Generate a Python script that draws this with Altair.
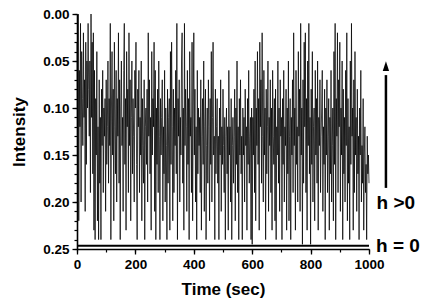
import altair as alt
import pandas as pd

# Intensity trace, one value every 2 s
intensity = [
    0.03, 0.18, 0.00, 0.22, 0.06, 0.12, 0.01, 0.20, 0.04, 0.09,
    0.14, 0.02, 0.11, 0.07, 0.21, 0.03, 0.16, 0.05, 0.10, 0.01,
    0.08, 0.13, 0.05, 0.19, 0.00, 0.11, 0.03, 0.17, 0.02, 0.23,
    0.06, 0.24, 0.09, 0.15, 0.04, 0.22, 0.12, 0.24, 0.07, 0.18,
    0.11, 0.24, 0.08, 0.14, 0.06, 0.19, 0.10, 0.13, 0.09, 0.21,
    0.07, 0.16, 0.12, 0.05, 0.18, 0.09, 0.14, 0.01, 0.24, 0.10,
    0.04, 0.15, 0.08, 0.22, 0.03, 0.12, 0.17, 0.06, 0.20, 0.09,
    0.13, 0.02, 0.18, 0.07, 0.24, 0.10, 0.05, 0.14, 0.11, 0.21,
    0.06, 0.01, 0.16, 0.09, 0.23, 0.04, 0.12, 0.08, 0.19, 0.02,
    0.14, 0.07, 0.22, 0.11, 0.05, 0.17, 0.09, 0.13, 0.20, 0.06,
    0.10, 0.03, 0.16, 0.24, 0.08, 0.12, 0.06, 0.19, 0.11, 0.15,
    0.05, 0.22, 0.09, 0.14, 0.18, 0.07, 0.24, 0.12, 0.10, 0.16,
    0.08, 0.20, 0.02, 0.13, 0.07, 0.17, 0.11, 0.23, 0.04, 0.15,
    0.09, 0.12, 0.03, 0.21, 0.06, 0.24, 0.10, 0.16, 0.08, 0.19,
    0.05, 0.13, 0.24, 0.09, 0.15, 0.11, 0.07, 0.22, 0.12, 0.17,
    0.06, 0.20, 0.10, 0.14, 0.24, 0.08, 0.18, 0.11, 0.09, 0.23,
    0.04, 0.16, 0.03, 0.12, 0.22, 0.08, 0.19, 0.10, 0.14, 0.06,
    0.17, 0.01, 0.24, 0.09, 0.13, 0.07, 0.20, 0.11, 0.15, 0.05,
    0.02, 0.18, 0.10, 0.23, 0.01, 0.14, 0.08, 0.12, 0.21, 0.06,
    0.16, 0.09, 0.24, 0.04, 0.13, 0.11, 0.19, 0.03, 0.22, 0.10,
    0.02, 0.15, 0.08, 0.20, 0.12, 0.24, 0.06, 0.17, 0.10, 0.14,
    0.11, 0.19, 0.07, 0.23, 0.13, 0.09, 0.16, 0.05, 0.21, 0.12,
    0.08, 0.24, 0.14, 0.10, 0.18, 0.07, 0.12, 0.22, 0.09, 0.16,
    0.04, 0.20, 0.11, 0.03, 0.15, 0.13, 0.24, 0.08, 0.17, 0.12,
    0.09, 0.18, 0.13, 0.24, 0.10, 0.15, 0.07, 0.21, 0.12, 0.16,
    0.08, 0.14, 0.19, 0.11, 0.24, 0.13, 0.10, 0.17, 0.12, 0.23,
    0.06, 0.15, 0.12, 0.20, 0.09, 0.24, 0.14, 0.11, 0.18, 0.13,
    0.08, 0.22, 0.10, 0.16, 0.05, 0.19, 0.12, 0.24, 0.09, 0.15,
    0.07, 0.17, 0.13, 0.24, 0.10, 0.15, 0.11, 0.20, 0.08, 0.14,
    0.12, 0.23, 0.09, 0.16, 0.06, 0.18, 0.13, 0.11, 0.24, 0.10,
    0.245, 0.11, 0.15, 0.08, 0.19, 0.05, 0.22, 0.10, 0.14, 0.04,
    0.16, 0.09, 0.23, 0.03, 0.12, 0.07, 0.18, 0.02, 0.13, 0.20,
    0.06, 0.15, 0.10, 0.24, 0.08, 0.17, 0.12, 0.05, 0.21, 0.11,
    0.14, 0.07, 0.19, 0.10, 0.23, 0.06, 0.13, 0.16, 0.09, 0.22,
    0.08, 0.24, 0.12, 0.15, 0.05, 0.18, 0.10, 0.21, 0.07, 0.13,
    0.11, 0.24, 0.09, 0.16, 0.06, 0.20, 0.12, 0.14, 0.08, 0.23,
    0.10, 0.17, 0.05, 0.22, 0.13, 0.09, 0.24, 0.11, 0.15, 0.07,
    0.19, 0.02, 0.14, 0.10, 0.23, 0.06, 0.16, 0.12, 0.20, 0.04,
    0.13, 0.08, 0.21, 0.01, 0.15, 0.10, 0.245, 0.07, 0.18, 0.03,
    0.12, 0.02, 0.19, 0.09, 0.23, 0.05, 0.14, 0.01, 0.17, 0.11,
    0.245, 0.08, 0.16, 0.04, 0.20, 0.12, 0.10, 0.22, 0.06, 0.15,
    0.09, 0.18, 0.05, 0.23, 0.11, 0.14, 0.07, 0.19, 0.13, 0.10,
    0.06, 0.21, 0.12, 0.16, 0.08, 0.24, 0.10, 0.15, 0.07, 0.19,
    0.13, 0.09, 0.23, 0.11, 0.17, 0.06, 0.20, 0.14, 0.10, 0.22,
    0.04, 0.16, 0.01, 0.24, 0.09, 0.13, 0.02, 0.19, 0.07, 0.12,
    0.03, 0.21, 0.10, 0.15, 0.05, 0.24, 0.08, 0.17, 0.11, 0.20,
    0.06, 0.14, 0.02, 0.22, 0.09, 0.18, 0.12, 0.24, 0.05, 0.16,
    0.01, 0.13, 0.10, 0.23, 0.07, 0.19, 0.04, 0.15, 0.11, 0.21,
    0.08, 0.17, 0.13, 0.24, 0.10, 0.15, 0.06, 0.20, 0.14, 0.18,
    0.09, 0.23, 0.15, 0.12, 0.19, 0.16, 0.24, 0.13, 0.17, 0.15,
    0.18,
]
time = [2 * i for i in range(len(intensity))]

x_major = [0, 200, 400, 600, 800, 1000]
x_minor = [0, 100, 200, 300, 400, 500, 600, 700, 800, 900, 1000]
y_major = [0.00, 0.05, 0.10, 0.15, 0.20, 0.25]
y_minor = [round(0.01 * i, 2) for i in range(26)]

# baseline (h = 0) level and annotations
baseline_level = [0.2465]
baseline_span = [0, 1000]
arrow_x = [1058]
arrow_y = [0.185, 0.065]
arrow_head_y = [0.056]
labels = ["h >0", "h = 0"]
label_x = [1026, 1024]
label_y = [0.201, 0.2465]

FONT = "Liberation Sans"

df = pd.DataFrame({"t": time, "I": intensity})
x_scale = alt.Scale(domain=[0, 1000], nice=False, zero=False)
y_scale = alt.Scale(domain=[0, 0.25], reverse=True, nice=False, zero=False)

axis_common = dict(
    domainColor="black", domainWidth=1.6, tickColor="black", tickWidth=1.3,
    labelFont=FONT, labelFontWeight="bold", labelColor="black", labelFontSize=13.5,
    titleFont=FONT, titleFontWeight="bold", titleColor="black", titleFontSize=17,
    grid=False, labelFlush=False, labelOverlap=False,
)

line = alt.Chart(df).mark_line(color="black", strokeWidth=0.75).encode(
    x=alt.X("t:Q", scale=x_scale,
            axis=alt.Axis(title="Time (sec)", values=x_major, format="d",
                          tickSize=5, labelPadding=3, titlePadding=11,
                          orient="bottom", **axis_common)),
    y=alt.Y("I:Q", scale=y_scale,
            axis=alt.Axis(title="Intensity", values=y_major, format=".2f",
                          tickSize=5, labelPadding=3, titlePadding=14,
                          orient="left", **axis_common)),
)

minor_df = pd.DataFrame({"t": [0, 1000], "I": [0.0, 0.25]})
minor = alt.Chart(minor_df).mark_point(opacity=0).encode(
    x=alt.X("t:Q", scale=x_scale,
            axis=alt.Axis(title=None, values=x_minor, labels=False, tickSize=3,
                          orient="bottom", domain=False, tickColor="black",
                          tickWidth=1.2, grid=False)),
    y=alt.Y("I:Q", scale=y_scale,
            axis=alt.Axis(title=None, values=y_minor, labels=False, tickSize=3,
                          orient="left", domain=False, tickColor="black",
                          tickWidth=1.2, grid=False)),
)

base_df = pd.DataFrame({"x0": [baseline_span[0]], "x1": [baseline_span[1]],
                        "y": baseline_level})
baseline = alt.Chart(base_df).mark_rule(color="black", strokeWidth=2).encode(
    x=alt.X("x0:Q", scale=x_scale, axis=None),
    x2="x1:Q",
    y=alt.Y("y:Q", scale=y_scale, axis=None),
)

arrow_df = pd.DataFrame({"x": arrow_x, "y0": [arrow_y[0]], "y1": [arrow_y[1]]})
arrow = alt.Chart(arrow_df).mark_rule(color="black", strokeWidth=2.5).encode(
    x=alt.X("x:Q", scale=x_scale, axis=None),
    y=alt.Y("y0:Q", scale=y_scale, axis=None),
    y2="y1:Q",
)
head_df = pd.DataFrame({"x": arrow_x, "y": arrow_head_y})
head = alt.Chart(head_df).mark_point(shape="M-0.45,0.6L0,-0.75L0.45,0.6Z",
                                     filled=True, color="black",
                                     size=200, opacity=1).encode(
    x=alt.X("x:Q", scale=x_scale, axis=None),
    y=alt.Y("y:Q", scale=y_scale, axis=None),
)

text_df = pd.DataFrame({"label": labels, "x": label_x, "y": label_y})
texts = alt.Chart(text_df).mark_text(align="left", baseline="middle", font=FONT,
                                     fontWeight="bold", fontSize=19,
                                     color="black").encode(
    x=alt.X("x:Q", scale=x_scale, axis=None),
    y=alt.Y("y:Q", scale=y_scale, axis=None),
    text="label:N",
)

chart = alt.layer(line, minor, baseline, arrow, head, texts).resolve_axis(
    x="independent", y="independent"
).properties(
    width=292, height=235,
    autosize=alt.AutoSizeParams(type="none"),
    padding={"left": 69, "top": 6, "right": 58, "bottom": 50},
).configure(background="white").configure_view(stroke="transparent", strokeWidth=0)

chart.save("out.html", embed_options={"renderer": "svg", "actions": False})
